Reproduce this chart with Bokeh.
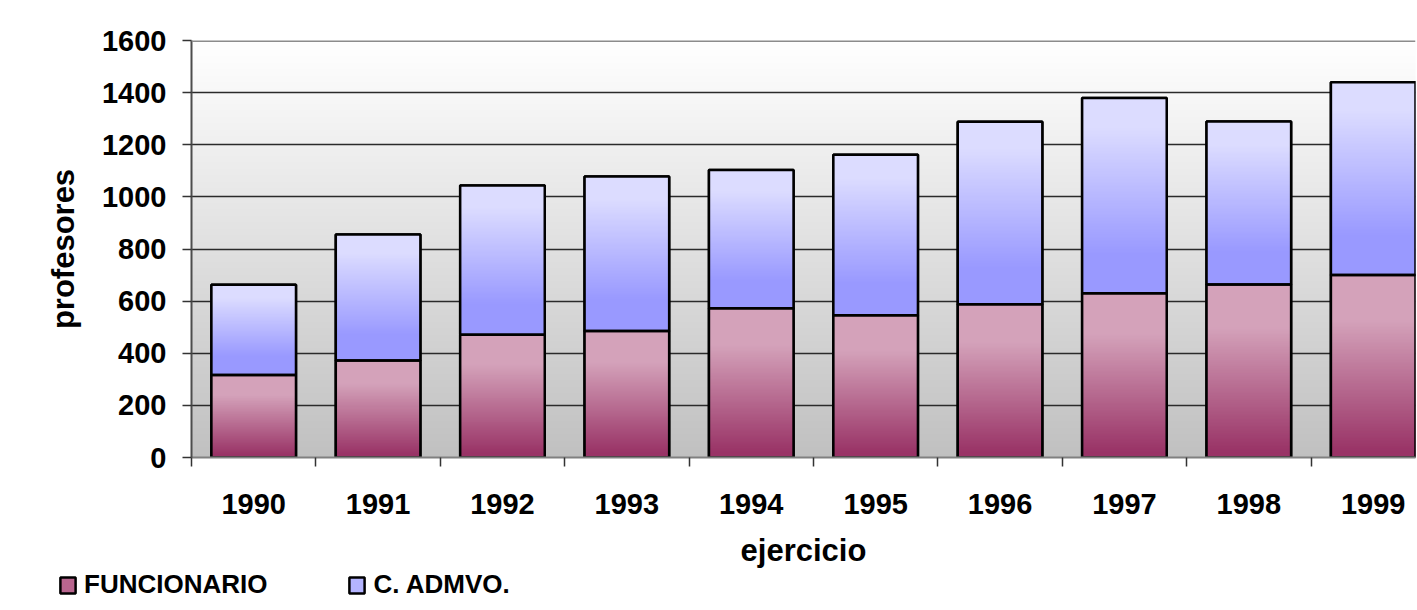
import numpy as np
from bokeh.plotting import figure
from bokeh.layouts import column
from bokeh.models import (ColumnDataSource, FixedTicker, Range1d, Legend,
                          LegendItem, Span)
from bokeh.embed import file_html
from bokeh.resources import INLINE

# ---- data ----
years = ["1990", "1991", "1992", "1993", "1994", "1995", "1996", "1997", "1998", "1999"]
funcionario = [317, 372, 471, 485, 573, 546, 588, 630, 664, 700]
c_admvo = [346, 484, 573, 593, 530, 616, 700, 749, 625, 740]
y_ticks = [0, 200, 400, 600, 800, 1000, 1200, 1400, 1600]
series_names = ["FUNCIONARIO", "C. ADMVO."]

FONT = "Liberation Sans"
BAR_W = 0.68
F_FILL = "#B8658E"
A_FILL = "#B4B4FF"

xs = list(range(len(years)))
totals = [f + a for f, a in zip(funcionario, c_admvo)]


def gradient(top_rgb, bot_rgb, t0, t1, n=128):
    img = np.empty((n, 1), dtype=np.uint32)
    view = img.view(dtype=np.uint8).reshape((n, 1, 4))
    for i in range(n):
        t = 1.0 - (i + 0.5) / n          # 0 at top, 1 at bottom
        s = min(max((t - t0) / (t1 - t0), 0.0), 1.0)
        for k in range(3):
            view[i, 0, k] = int(round(top_rgb[k] + (bot_rgb[k] - top_rgb[k]) * s))
        view[i, 0, 3] = 255
    return img


p = figure(width=1417, height=570,
           x_range=Range1d(-0.5, 9.34), y_range=Range1d(0, 1600),
           output_backend="svg", toolbar_location=None,
           min_border_left=191, min_border_right=2,
           min_border_top=40, min_border_bottom=110)
p.outline_line_color = None
p.background_fill_color = "white"
p.border_fill_color = "white"

# plot-area gradient background
bg = gradient((255, 255, 255), (192, 192, 192), 0.0, 1.0, n=256)
p.image_rgba(image=[bg], x=-0.5, y=0, dw=10, dh=1600, level="image")

# grid
p.xgrid.visible = False
p.ygrid.ticker = FixedTicker(ticks=y_ticks)
p.ygrid.grid_line_color = "#2a2a2a"
p.ygrid.grid_line_width = 1.5
p.add_layout(Span(location=1600, dimension="width", line_color="#8c8c8c", line_width=3))

# bars
src = ColumnDataSource(dict(x=xs, f=funcionario, a=c_admvo, t=totals,
                            zero=[0] * len(xs)))
p.vbar(x="x", bottom="zero", top="f", width=BAR_W, source=src,
       fill_color=F_FILL, line_color="black", line_width=2.5)
p.vbar(x="x", bottom="f", top="t", width=BAR_W, source=src,
       fill_color=A_FILL, line_color="black", line_width=2.5)

# gradient fills for every bar segment
f_img = gradient((212, 162, 186), (153, 51, 102), 0.25, 0.97)
a_img = gradient((220, 220, 255), (153, 153, 255), 0.15, 0.8)
p.image_rgba(image=[f_img] * len(xs), x=[x - BAR_W / 2 for x in xs],
             y=[0] * len(xs), dw=[BAR_W] * len(xs), dh=funcionario)
p.image_rgba(image=[a_img] * len(xs), x=[x - BAR_W / 2 for x in xs],
             y=funcionario, dw=[BAR_W] * len(xs), dh=c_admvo)

# outlines on top
p.vbar(x="x", bottom="zero", top="f", width=BAR_W, source=src,
       fill_color=None, line_color="black", line_width=2.5)
p.vbar(x="x", bottom="f", top="t", width=BAR_W, source=src,
       fill_color=None, line_color="black", line_width=2.5)

# axes
xa = p.xaxis[0]
xa.ticker = FixedTicker(ticks=xs, minor_ticks=[i - 0.5 for i in range(len(xs) + 1)])
xa.major_label_overrides = {i: y for i, y in enumerate(years)}
xa.major_tick_out = 0
xa.major_tick_in = 0
xa.minor_tick_out = 9
xa.minor_tick_in = 0
xa.minor_tick_line_color = "#333333"
xa.minor_tick_line_width = 1.5
xa.axis_line_color = "#808080"
xa.axis_line_width = 2
xa.major_label_text_font = FONT
xa.major_label_text_font_style = "bold"
xa.major_label_text_font_size = "29px"
xa.major_label_text_color = "black"
xa.major_label_standoff = 27
xa.axis_label = "ejercicio"
xa.axis_label_text_font = FONT
xa.axis_label_text_font_style = "bold"
xa.axis_label_text_font_size = "31px"
xa.axis_label_text_color = "black"
xa.axis_label_standoff = 16

ya = p.yaxis[0]
ya.ticker = FixedTicker(ticks=y_ticks)
ya.major_tick_out = 9
ya.major_tick_in = 0
ya.minor_tick_out = 0
ya.minor_tick_in = 0
ya.major_tick_line_color = "#333333"
ya.major_tick_line_width = 1.5
ya.axis_line_color = "#4d4d4d"
ya.axis_line_width = 2
ya.major_label_text_font = FONT
ya.major_label_text_font_style = "bold"
ya.major_label_text_font_size = "29px"
ya.major_label_text_color = "black"
ya.major_label_standoff = 16
ya.axis_label = "profesores"
ya.axis_label_text_font = FONT
ya.axis_label_text_font_style = "bold"
ya.axis_label_text_font_size = "31px"
ya.axis_label_text_color = "black"
ya.axis_label_standoff = 18

# legend strip below the chart (its glyph renderers use the same data, hidden)
q = figure(width=1417, height=40, x_range=Range1d(0, 1), y_range=Range1d(0, 1),
           output_backend="svg", toolbar_location=None,
           x_axis_type=None, y_axis_type=None,
           min_border_left=0, min_border_right=0, min_border_top=0, min_border_bottom=0)
for plot in (p, q):
    if "frame_align" in plot.properties():
        plot.frame_align = False
q.outline_line_color = None
q.grid.visible = False
q.background_fill_color = "white"
q.border_fill_color = "white"
lf = q.vbar(x="x", bottom="zero", top="f", width=BAR_W, source=src,
            fill_color=F_FILL, line_color="black", line_width=2.5)
la = q.vbar(x="x", bottom="f", top="t", width=BAR_W, source=src,
            fill_color=A_FILL, line_color="black", line_width=2.5)
lf.visible = False
la.visible = False
legend = Legend(items=[LegendItem(label=series_names[0], renderers=[lf]),
                       LegendItem(label=series_names[1], renderers=[la])],
                location=(58, 10), orientation="horizontal",
                padding=0, margin=0, border_line_color=None,
                background_fill_alpha=0, glyph_width=19, glyph_height=20,
                label_standoff=7, spacing=80, inactive_fill_alpha=0,
                label_text_font=FONT, label_text_font_style="bold",
                label_text_font_size="26px", label_text_color="black")
q.add_layout(legend)

open("out.html", "w").write(file_html(column(p, q, spacing=0), INLINE))
